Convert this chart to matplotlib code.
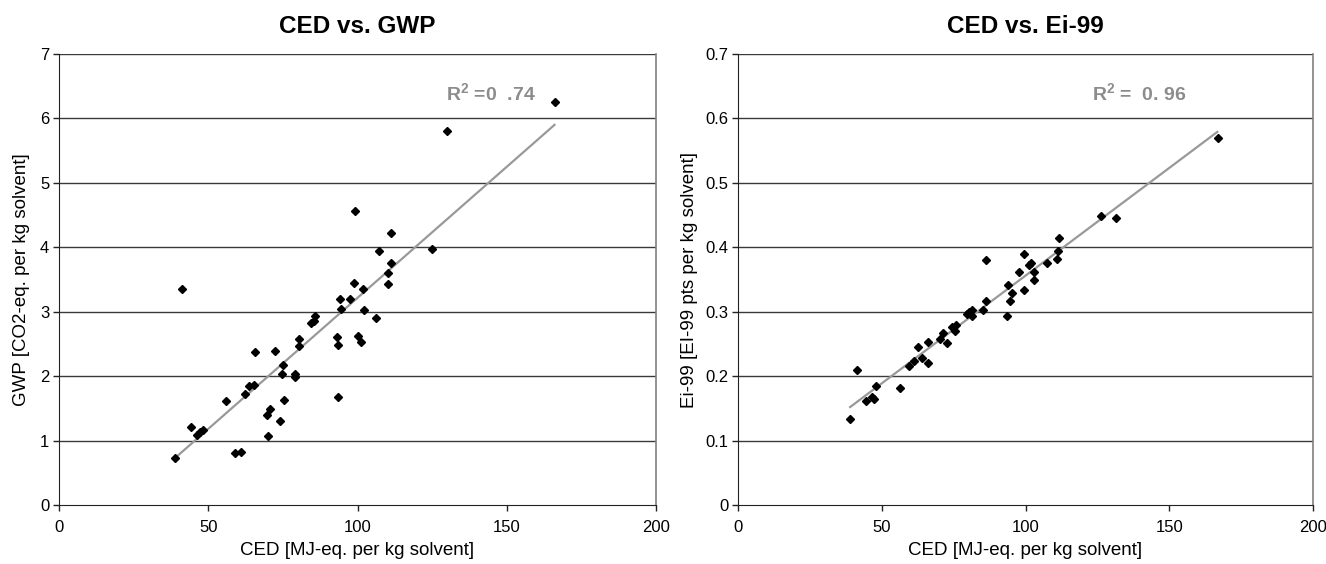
import matplotlib
matplotlib.use("Agg")
import matplotlib.pyplot as plt

plt.rcParams['font.family'] = ['Liberation Sans', 'DejaVu Sans']
plt.rcParams['mathtext.fontset'] = 'custom'
plt.rcParams['mathtext.rm'] = 'Liberation Sans'
plt.rcParams['mathtext.bf'] = 'Liberation Sans:bold'

# ---- Left panel: CED vs GWP ----
ced_gwp_x = [38.9, 41.2, 44.2, 46.2, 47.3, 48.2, 55.9, 58.9, 60.9, 62.4,
             63.6, 65.4, 65.5, 69.6, 70.8, 70.1, 72.4, 75.0, 74.7, 74.2,
             75.4, 79.1, 79.2, 80.5, 80.5, 84.4, 85.3, 85.6, 93.0, 93.4,
             93.6, 94.2, 94.4, 97.5, 98.7, 100.2, 101.3, 99.2, 102.0, 102.1,
             106.3, 107.2, 110.2, 110.2, 111.2, 111.2, 125.1, 130.0, 166.0]
gwp_y = [0.73, 3.36, 1.21, 1.08, 1.13, 1.16, 1.61, 0.80, 0.82, 1.73,
         1.85, 1.87, 2.37, 1.40, 1.49, 1.07, 2.39, 2.17, 2.03, 1.30,
         1.63, 2.03, 1.99, 2.57, 2.47, 2.82, 2.85, 2.94, 2.60, 2.49,
         1.68, 3.19, 3.04, 3.20, 3.45, 2.63, 2.53, 4.56, 3.36, 3.03,
         2.90, 3.95, 3.60, 3.43, 3.75, 4.22, 3.97, 5.81, 6.25]
gwp_trend_x = [38.9, 166.0]
gwp_trend_y = [0.73, 5.90]
gwp_r2_label = r"$\mathbf{R^{2}}$ =0  .74"

# ---- Right panel: CED vs Ei-99 ----
ced_ei_x = [39.0, 41.4, 44.5, 46.6, 47.4, 48.0, 56.5, 59.5, 61.2, 62.7,
            63.9, 66.0, 66.0, 70.3, 71.3, 72.6, 74.4, 75.8, 75.5, 79.5,
            80.5, 81.3, 81.5, 85.3, 86.3, 86.4, 93.5, 93.8, 95.2, 94.7,
            97.8, 99.4, 99.5, 101.1, 101.9, 103.1, 103.0, 107.4, 110.9, 111.2,
            111.7, 126.4, 131.6, 167.0]
ei_y = [0.133, 0.209, 0.161, 0.167, 0.164, 0.184, 0.182, 0.216, 0.223, 0.245,
        0.228, 0.253, 0.220, 0.258, 0.267, 0.251, 0.277, 0.279, 0.270, 0.297,
        0.300, 0.302, 0.294, 0.302, 0.316, 0.380, 0.293, 0.342, 0.329, 0.317,
        0.361, 0.389, 0.334, 0.372, 0.375, 0.361, 0.350, 0.376, 0.382, 0.395,
        0.415, 0.449, 0.445, 0.570]
ei_trend_x = [39.0, 166.7]
ei_trend_y = [0.152, 0.579]
ei_r2_label = r"$\mathbf{R^{2}}$ =  0. 96"

x_ticks = [0, 50, 100, 150, 200]
gwp_ticks = [0, 1, 2, 3, 4, 5, 6, 7]
ei_ticks = [0, 0.1, 0.2, 0.3, 0.4, 0.5, 0.6, 0.7]
ei_tick_labels = ["0", "0.1", "0.2", "0.3", "0.4", "0.5", "0.6", "0.7"]

fig = plt.figure(figsize=(13.26, 5.64), dpi=100)
W, H = 1326, 564
ax1 = fig.add_axes([59 / W, (H - 505) / H, (656 - 59) / W, (505 - 54) / H])
ax2 = fig.add_axes([738 / W, (H - 505) / H, (1313 - 738) / W, (505 - 54) / H])


def style(ax, yticks, ylabels, ymax):
    ax.set_xlim(0, 200)
    ax.set_ylim(0, ymax)
    ax.set_xticks(x_ticks)
    ax.set_xticklabels([str(t) for t in x_ticks])
    ax.set_yticks(yticks)
    ax.set_yticklabels(ylabels)
    for t in yticks[1:]:
        ax.axhline(t, color='#3a3a3a', lw=1.0, zorder=1)
    ax.spines['top'].set_visible(False)
    ax.spines['right'].set_color('#808080')
    ax.spines['right'].set_linewidth(1.2)
    ax.spines['left'].set_color('#222222')
    ax.spines['bottom'].set_color('#222222')
    ax.tick_params(direction='out', length=4, width=1, colors='#222222',
                   labelsize=12, labelcolor='black', pad=3)
    ax.tick_params(axis='x', pad=7)


style(ax1, gwp_ticks, [str(t) for t in gwp_ticks], 7)
style(ax2, ei_ticks, ei_tick_labels, 0.7)

ax1.plot(gwp_trend_x, gwp_trend_y, color='#999999', lw=1.6, zorder=2)
ax1.plot(ced_gwp_x, gwp_y, linestyle='none', marker='D', markersize=4.2,
         color='black', zorder=3)
ax2.plot(ei_trend_x, ei_trend_y, color='#999999', lw=1.6, zorder=2)
ax2.plot(ced_ei_x, ei_y, linestyle='none', marker='D', markersize=4.2,
         color='black', zorder=3)

ax1.text(129.5, 6.4, gwp_r2_label, color='#8c8c8c', fontsize=14,
         fontweight='bold', va='center', ha='left')
ax2.text(123, 0.64, ei_r2_label, color='#8c8c8c', fontsize=14,
         fontweight='bold', va='center', ha='left')

ax1.set_title("CED vs. GWP", fontsize=17.5, fontweight='bold', pad=15)
ax2.set_title("CED vs. Ei-99", fontsize=17.5, fontweight='bold', pad=15)

ax1.set_xlabel("CED [MJ-eq. per kg solvent]", fontsize=13.5, labelpad=5)
ax2.set_xlabel("CED [MJ-eq. per kg solvent]", fontsize=13.5, labelpad=5)
ax1.set_ylabel("GWP [CO2-eq. per kg solvent]", fontsize=13.5, labelpad=7)
ax2.set_ylabel("Ei-99 [EI-99 pts per kg solvent]", fontsize=13.5, labelpad=5)

fig.savefig("out.png", dpi=100)
